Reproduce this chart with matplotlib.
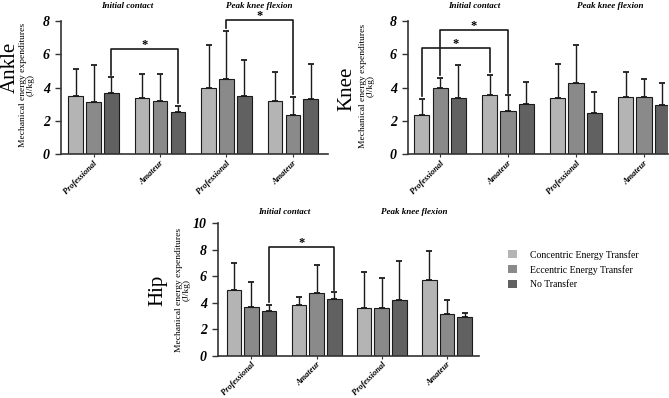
"""Mechanical energy expenditures - ankle, knee, hip."""
import matplotlib.pyplot as plt
from matplotlib.patches import Patch
import numpy as np

plt.rcParams['font.family'] = ['Liberation Serif', 'DejaVu Serif']

series_names = ['Concentric Energy Transfer', 'Eccentric Energy Transfer', 'No Transfer']
colors = ['#b4b4b4', '#8a8a8a', '#616161']
group_labels = ['Professional', 'Amateur', 'Professional', 'Amateur']
phase_labels = ['Initial contact', 'Peak knee flexion']

# means and SD (upper error only), order: Prof IC, Amat IC, Prof PKF, Amat PKF
ankle_conc = [3.48, 3.36, 4.00, 3.18]
ankle_ecc = [3.14, 3.18, 4.50, 2.34]
ankle_none = [3.66, 2.52, 3.48, 3.34]
ankle_conc_sd = [1.64, 1.48, 2.56, 1.78]
ankle_ecc_sd = [2.22, 1.62, 2.90, 1.10]
ankle_none_sd = [0.96, 0.40, 2.18, 2.06]

knee_conc = [2.34, 3.56, 3.40, 3.44]
knee_ecc = [3.96, 2.60, 4.26, 3.42]
knee_none = [3.40, 3.02, 2.48, 2.96]
knee_conc_sd = [1.00, 1.22, 2.02, 1.52]
knee_ecc_sd = [0.64, 0.94, 2.28, 1.08]
knee_none_sd = [1.96, 1.34, 1.28, 1.32]

hip_conc = [4.95, 3.82, 3.62, 5.70]
hip_ecc = [3.65, 4.72, 3.60, 3.15]
hip_none = [3.35, 4.25, 4.20, 2.92]
hip_conc_sd = [2.05, 0.63, 2.70, 2.20]
hip_ecc_sd = [1.87, 2.08, 2.22, 1.05]
hip_none_sd = [0.50, 0.53, 2.92, 0.28]

# significance brackets: (series, group a, group b, bracket height)
ankle_sig = [(2, 0, 1, 6.3), (1, 2, 3, 8.06)]
knee_sig = [(0, 0, 1, 6.36), (1, 0, 1, 7.48)]
hip_sig = [(2, 0, 1, 8.2)]

W, H = 669, 398
fig = plt.figure(figsize=(W / 100, H / 100), dpi=100)
ink = '#1a1a1a'


def panel(rect, name, means, sds, ymax, xlim, sig, title_y, name_px, ylab_px):
    ax = fig.add_axes(rect)
    x = np.arange(4) * 3.7
    for i in range(3):
        ax.bar(x + i - 1, means[i], width=0.83, color=colors[i],
               edgecolor=ink, linewidth=0.8, zorder=2)
        ax.errorbar(x + i - 1, means[i], yerr=[np.zeros(4), sds[i]], fmt='none',
                    ecolor=ink, elinewidth=1.0, capsize=2, capthick=1.3, zorder=1)
    gap = 0.15 * ymax / 8
    for s, ga, gb, h in sig:
        xa, xb = x[ga] + s - 1, x[gb] + s - 1
        ya = means[s][ga] + sds[s][ga] + gap
        yb = means[s][gb] + sds[s][gb] + gap
        ax.plot([xa, xa, xb, xb], [ya, h, h, yb], color=ink, lw=1.2, clip_on=False)
        ax.text((xa + xb) / 2, h + 0.06 * ymax / 8, '*', ha='center', va='baseline',
                fontsize=9, fontweight='bold', clip_on=False)
    ax.set_xlim(*xlim)
    ax.set_ylim(0, ymax)
    ax.set_yticks(np.arange(0, ymax + 1, 2))
    ax.set_yticklabels([str(v) for v in range(0, ymax + 1, 2)],
                       fontsize=10, style='italic', fontweight='bold')
    ax.set_xticks(x)
    ax.set_xticklabels(group_labels, rotation=45, ha='right', va='top',
                       rotation_mode='anchor', style='italic', fontweight='bold',
                       fontsize=6)
    ax.tick_params(axis='y', length=4, width=1, pad=4, color='#333333')
    ax.tick_params(axis='x', length=2, width=0.8, pad=1.5, color='#333333')
    for sp in ['top', 'right']:
        ax.spines[sp].set_visible(False)
    for sp in ['left', 'bottom']:
        ax.spines[sp].set_linewidth(1.2)
        ax.spines[sp].set_color('#333333')
    tr = ax.get_xaxis_transform()
    for k, lab in enumerate(phase_labels):
        ax.text((x[2 * k] + x[2 * k + 1]) / 2, title_y, lab, transform=tr,
                ha='center', va='center', style='italic', fontweight='bold', fontsize=6.5)
    fig.text(name_px[0] / W, 1 - name_px[1] / H, name, rotation=90,
             ha='center', va='center', fontsize=15)
    fig.text(ylab_px[0] / W, 1 - ylab_px[1] / H,
             'Mechanical energy expenditures\n(J/kg)', rotation=90,
             ha='center', va='center', multialignment='center', fontsize=6.8,
             linespacing=1.0)
    return ax


panel([61 / W, 1 - 154.3 / H, 267 / W, 133.3 / H], 'Ankle',
      [ankle_conc, ankle_ecc, ankle_none],
      [ankle_conc_sd, ankle_ecc_sd, ankle_none_sd],
      8, (-1.81, 13.05), ankle_sig, 1.115, (10, 67), (27, 85))

panel([408 / W, 1 - 154.3 / H, 260 / W, 133.3 / H], 'Knee',
      [knee_conc, knee_ecc, knee_none],
      [knee_conc_sd, knee_ecc_sd, knee_none_sd],
      8, (-1.75, 12.41), knee_sig, 1.115, (347, 89), (367, 86))

panel([218 / W, 1 - 355.7 / H, 261 / W, 132.7 / H], 'Hip',
      [hip_conc, hip_ecc, hip_none],
      [hip_conc_sd, hip_ecc_sd, hip_none_sd],
      10, (-1.9, 12.92), hip_sig, 1.08, (158, 290), (183, 290))

handles = [Patch(facecolor=c, edgecolor='none') for c in colors]
fig.legend(handles, series_names, loc='upper left', bbox_to_anchor=(508 / W, 1 - 250 / H),
           frameon=False, fontsize=7, handlelength=0.9, handleheight=0.9,
           handletextpad=1.4, labelspacing=0.55, borderpad=0, borderaxespad=0)

plt.savefig('out.png', dpi=100)
